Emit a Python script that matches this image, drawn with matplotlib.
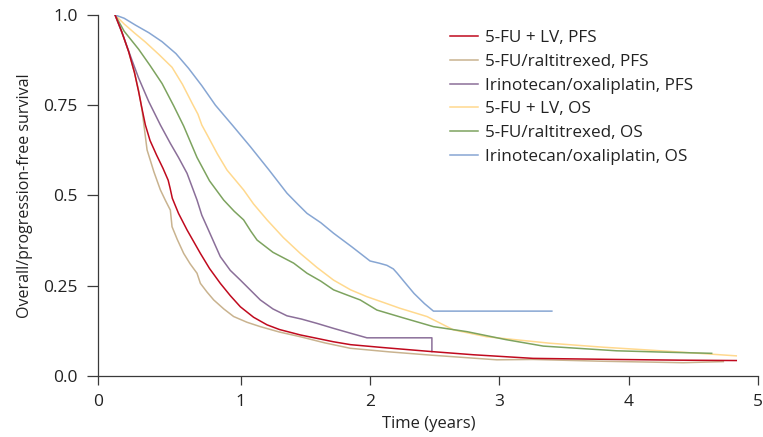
import matplotlib
matplotlib.use("Agg")
import matplotlib.pyplot as plt

plt.rcParams['font.family'] = ['Open Sans', 'DejaVu Sans']

labels = ["5-FU + LV, PFS", "5-FU/raltitrexed, PFS", "Irinotecan/oxaliplatin, PFS",
          "5-FU + LV, OS", "5-FU/raltitrexed, OS", "Irinotecan/oxaliplatin, OS"]
colors = ["#C00A1E", "#C9B38F", "#8B6F99", "#FFD98E", "#7DA35F", "#87A6D3"]

fu_lv_pfs_t = [0.03, 0.08, 0.135, 0.18, 0.212, 0.235, 0.264, 0.30, 0.35, 0.40, 0.440,
               0.455, 0.472, 0.52, 0.586, 0.689, 0.76, 0.843, 0.92, 0.998, 1.10,
               1.204, 1.30, 1.461, 1.718, 1.85, 2.10, 2.47, 2.80, 3.26, 3.906, 4.40, 4.83]
fu_lv_pfs_s = [1.0, 0.955, 0.898, 0.84, 0.787, 0.745, 0.695, 0.652, 0.612, 0.575, 0.542,
               0.520, 0.492, 0.450, 0.404, 0.339, 0.297, 0.256, 0.222, 0.191, 0.162,
               0.141, 0.128, 0.113, 0.094, 0.086, 0.078, 0.067, 0.058, 0.048, 0.045, 0.043, 0.042]

fu_ral_pfs_t = [0.03, 0.08, 0.135, 0.18, 0.212, 0.225, 0.238, 0.277, 0.33, 0.380, 0.42,
                0.457, 0.470, 0.51, 0.56, 0.61, 0.663, 0.689, 0.74, 0.792, 0.87, 0.946,
                1.05, 1.152, 1.30, 1.461, 1.65, 1.847, 2.15, 2.47, 2.98, 3.26, 3.80,
                4.42, 4.73]
fu_ral_pfs_s = [1.0, 0.955, 0.898, 0.84, 0.79, 0.765, 0.737, 0.626, 0.565, 0.515, 0.485,
                0.459, 0.413, 0.378, 0.339, 0.310, 0.284, 0.256, 0.232, 0.210, 0.185, 0.164,
                0.148, 0.136, 0.121, 0.108, 0.091, 0.076, 0.066, 0.057, 0.044, 0.045, 0.040,
                0.036, 0.039]

iri_ox_pfs_t = [0.03, 0.10, 0.16, 0.212, 0.29, 0.380, 0.457, 0.52, 0.586, 0.663, 0.70,
                0.74, 0.843, 0.92, 0.998, 1.152, 1.25, 1.358, 1.47, 1.59, 1.72, 1.847,
                1.976, 2.478, 2.478]
iri_ox_pfs_s = [1.0, 0.935, 0.875, 0.825, 0.760, 0.695, 0.644, 0.605, 0.561, 0.487, 0.445,
                0.413, 0.330, 0.292, 0.265, 0.210, 0.185, 0.166, 0.157, 0.145, 0.131, 0.118,
                0.105, 0.105, 0.067]

fu_lv_os_t = [0.03, 0.10, 0.18, 0.264, 0.37, 0.470, 0.55, 0.63, 0.67, 0.70, 0.75,
              0.82, 0.895, 1.023, 1.10, 1.204, 1.33, 1.461, 1.59, 1.718, 1.85, 1.976,
              2.104, 2.23, 2.44, 2.645, 2.90, 3.39, 3.80, 4.16, 4.50, 4.83]
fu_lv_os_s = [1.0, 0.975, 0.950, 0.925, 0.89, 0.855, 0.808, 0.752, 0.725, 0.695, 0.662,
              0.615, 0.570, 0.515, 0.476, 0.432, 0.383, 0.339, 0.300, 0.265, 0.238, 0.219,
              0.203, 0.187, 0.164, 0.127, 0.108, 0.090, 0.079, 0.071, 0.063, 0.055]

fu_ral_os_t = [0.03, 0.10, 0.212, 0.30, 0.393, 0.483, 0.56, 0.663, 0.76, 0.869, 0.95,
               1.023, 1.08, 1.127, 1.25, 1.41, 1.513, 1.62, 1.718, 1.82, 1.924, 2.053,
               2.25, 2.49, 2.75, 3.05, 3.34, 3.906, 4.30, 4.64]
fu_ral_os_s = [1.0, 0.955, 0.905, 0.860, 0.810, 0.748, 0.692, 0.605, 0.540, 0.487, 0.456,
               0.432, 0.400, 0.376, 0.342, 0.312, 0.284, 0.262, 0.238, 0.224, 0.210, 0.182,
               0.161, 0.136, 0.122, 0.100, 0.082, 0.069, 0.065, 0.062]

iri_ox_os_t = [0.03, 0.10, 0.187, 0.29, 0.393, 0.50, 0.598, 0.70, 0.805, 0.94, 1.075,
               1.22, 1.358, 1.44, 1.513, 1.62, 1.718, 1.86, 2.0, 2.07, 2.13, 2.18, 2.21,
               2.27, 2.34, 2.42, 2.49, 3.405]
iri_ox_os_s = [1.0, 0.991, 0.972, 0.951, 0.926, 0.893, 0.852, 0.804, 0.750, 0.693, 0.635,
               0.570, 0.506, 0.476, 0.450, 0.424, 0.395, 0.357, 0.318, 0.312, 0.306, 0.296,
               0.284, 0.258, 0.228, 0.200, 0.179, 0.179]

series = [(fu_lv_pfs_t, fu_lv_pfs_s), (fu_ral_pfs_t, fu_ral_pfs_s), (iri_ox_pfs_t, iri_ox_pfs_s),
          (fu_lv_os_t, fu_lv_os_s), (fu_ral_os_t, fu_ral_os_s), (iri_ox_os_t, iri_ox_os_s)]

x_ticks = [-0.1, 1, 2, 3, 4, 5]
x_tick_labels = ["0", "1", "2", "3", "4", "5"]
y_ticks = [0.0, 0.25, 0.5, 0.75, 1.0]
y_tick_labels = ["0.0", "0.25", "0.5", "0.75", "1.0"]

fig = plt.figure(figsize=(7.63, 4.37), dpi=100)
ax = fig.add_axes([0.1288, 0.1403, 0.8650, 0.8254])

order = [3, 4, 5, 1, 2, 0]
handles = {}
for i in order:
    t, s = series[i]
    ln, = ax.plot(t, s, color=colors[i], lw=1.1, label=labels[i])
    handles[i] = ln

ax.set_xlim(-0.1, 5.0)
ax.set_ylim(0.0, 1.0)
ax.set_xticks(x_ticks)
ax.set_xticklabels(x_tick_labels)
ax.set_yticks(y_ticks)
ax.set_yticklabels(y_tick_labels)
for sp in ['top', 'right']:
    ax.spines[sp].set_visible(False)
for sp in ['left', 'bottom']:
    ax.spines[sp].set_color('#3a3a3a')
    ax.spines[sp].set_linewidth(0.9)
ax.tick_params(axis='y', length=7.9, width=0.9, color='#3a3a3a', labelsize=12.5,
               labelcolor='#222222', pad=7.0)
ax.tick_params(axis='x', length=6.5, width=0.9, color='#3a3a3a', labelsize=12.5,
               labelcolor='#222222', pad=7.0)
ax.set_xlabel("Time (years)", fontsize=12, color='#222222', labelpad=4)
ax.set_ylabel("Overall/progression-free survival", fontsize=11.5, color='#222222', labelpad=7)

leg = ax.legend([handles[i] for i in range(6)], labels, loc='upper left',
                bbox_to_anchor=(0.5725, 0.962), bbox_transform=fig.transFigure,
                frameon=False, fontsize=12.3, handlelength=1.6, handletextpad=0.4,
                labelspacing=0.45, borderpad=0.3)
for txt in leg.get_texts():
    txt.set_color('#222222')

fig.savefig("out.png", dpi=100)
